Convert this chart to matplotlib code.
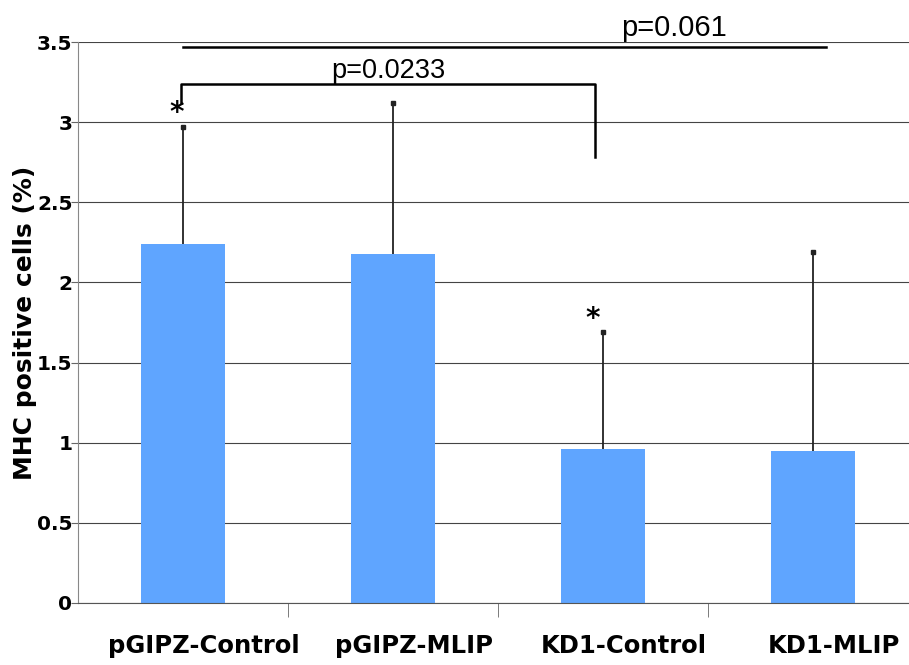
import matplotlib.pyplot as plt
import numpy as np

groups = ['pGIPZ-Control', 'pGIPZ-MLIP', 'KD1-Control', 'KD1-MLIP']
mhc_pct = [2.24, 2.18, 0.96, 0.95]
mhc_err = [0.73, 0.94, 0.73, 1.24]

fig = plt.figure(figsize=(9.09, 6.65), dpi=100)
ax = fig.add_axes([78/909, 62/665, 831/909, 561/665])

x = np.arange(len(groups))
tops = np.array(mhc_pct) + np.array(mhc_err)
ax.bar(x, mhc_pct, width=0.4, color='#5fa5ff', zorder=2)
# upper error only
ax.vlines(x, mhc_pct, tops, color='#222222', lw=1.3, zorder=3)
ax.plot(x, tops, ls='none', marker='s', ms=2.5, color='#222222', zorder=3)

ax.set_ylim(0, 3.5)
ax.set_xlim(-0.5, 3.457)
ax.set_yticks(np.arange(0, 3.51, 0.5))
ax.set_yticklabels(['0', '0.5', '1', '1.5', '2', '2.5', '3', '3.5'],
                   fontsize=14.5, fontweight='bold')
# labels in the original sit a little right of the bars
ax.set_xticks(x + 0.1)
ax.set_xticklabels(groups, fontsize=17.5, fontweight='bold')
ax.set_xticks([0.5, 1.5, 2.5], minor=True)
ax.tick_params(axis='x', which='major', length=0, pad=22)
ax.tick_params(axis='x', which='minor', length=10, color='#666666')
ax.tick_params(axis='y', length=5, color='#666666', pad=-1)

ax.grid(axis='y', color='#444444', lw=0.8, zorder=1)
for s in ['top', 'right']:
    ax.spines[s].set_visible(False)
ax.spines['left'].set_color('#888888')
ax.spines['bottom'].set_color('#555555')
ax.axhline(3.5, color='#aaaaaa', lw=1.2, zorder=1)

ax.set_ylabel('MHC positive cells (%)', fontsize=18, fontweight='bold')
ax.yaxis.set_label_coords(-0.049, 0.5)

# significance brackets
ax.plot([-0.01, -0.01, 1.96, 1.96], [3.12, 3.24, 3.24, 2.78], color='black', lw=1.8, zorder=4, clip_on=False)
ax.text(0.98, 3.275, 'p=0.0233', ha='center', va='baseline', fontsize=19.5, family='Liberation Sans')
ax.plot([0.0, 3.06], [3.47, 3.47], color='black', lw=1.8, zorder=4, clip_on=False)
ax.text(2.34, 3.54, 'p=0.061', ha='center', va='baseline', fontsize=21, family='Liberation Sans')
ax.text(-0.03, 3.06, '*', ha='center', va='center', fontsize=20, fontweight='bold')
ax.text(1.95, 1.77, '*', ha='center', va='center', fontsize=20, fontweight='bold')

fig.savefig('out.png', dpi=100)
